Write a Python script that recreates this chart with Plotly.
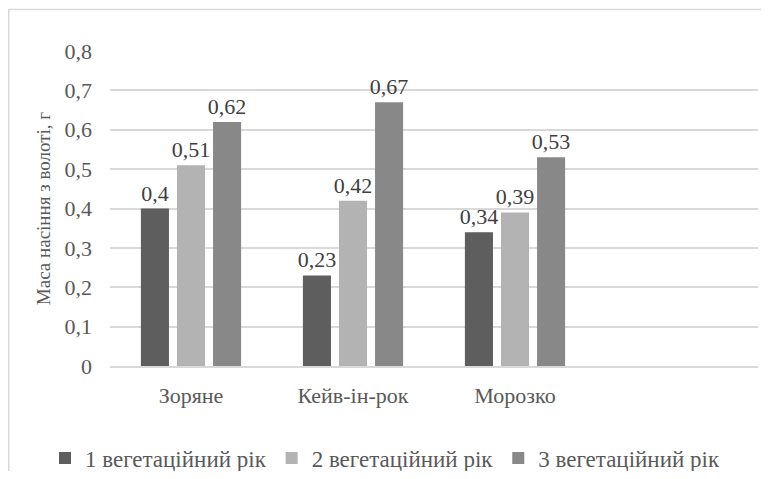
import plotly.graph_objects as go

categories = ["Зоряне", "Кейв-ін-рок", "Морозко"]
series_names = ["1 вегетаційний рік", "2 вегетаційний рік", "3 вегетаційний рік"]
year1 = [0.40, 0.23, 0.34]
year2 = [0.51, 0.42, 0.39]
year3 = [0.62, 0.67, 0.53]
colors = ["#5e5e5e", "#b3b3b3", "#888888"]

# figure sits at (8, 8) inside the page because of the body margin
W, H = 753, 463
ml, mr, mt, mb = 102, 3, 43, 105
pw, ph = W - ml - mr, H - mt - mb
FONT = "Liberation Serif"
FS = 22

def fmt(v):
    s = ("%.2f" % v).rstrip("0").rstrip(".")
    return s.replace(".", ",")

fig = go.Figure()
for name, vals, col in zip(series_names, [year1, year2, year3], colors):
    fig.add_trace(go.Bar(
        x=categories, y=vals, name=name, marker_color=col,
        marker_line_width=0,
        text=[fmt(v) for v in vals], textposition="outside",
        constraintext="none",
        textfont=dict(family=FONT, size=FS, color="#404040"),
        cliponaxis=False,
    ))

fig.update_layout(
    width=W, height=H,
    margin=dict(l=ml, r=mr, t=mt, b=mb, autoexpand=False),
    paper_bgcolor="white", plot_bgcolor="white",
    barmode="group", bargap=0.332, bargroupgap=0.222,
    separators=", ",
    font=dict(family=FONT, size=FS, color="#595959"),
    showlegend=True,
    legend=dict(orientation="h",
                x=(37 - ml) / pw, xanchor="left",
                y=(mt + ph - 450) / ph, yanchor="middle",
                font=dict(family=FONT, size=23, color="#595959"),
                itemwidth=30, tracegroupgap=0, bgcolor="rgba(0,0,0,0)"),
    xaxis=dict(type="category", range=[-0.5, 3.5], showgrid=False,
               automargin=False,
               showline=True, linecolor="#d9d9d9", linewidth=1.5,
               ticks="", ticklabelstandoff=9,
               tickfont=dict(family=FONT, size=FS, color="#595959")),
    yaxis=dict(range=[0, 0.8], dtick=0.1, showgrid=True, gridcolor="#d9d9d9",
               automargin=False,
               gridwidth=1.5, zeroline=False, showline=False, ticks="",
               ticklabelstandoff=17,
               tickfont=dict(family=FONT, size=FS, color="#595959")),
    shapes=[dict(type="rect", xref="paper", yref="paper",
                 x0=(0.75 - ml) / pw, x1=(W + 20 - ml) / pw,
                 y0=(mt + ph - (H + 20)) / ph, y1=(mt + ph - 1.5) / ph,
                 line=dict(color="#d9d9d9", width=1.5), layer="below")],
)
fig.update_yaxes(title=dict(text="Маса насіння з волоті, г", standoff=8,
                            font=dict(family=FONT, size=19, color="#595959")))

fig.write_html("out.html")
